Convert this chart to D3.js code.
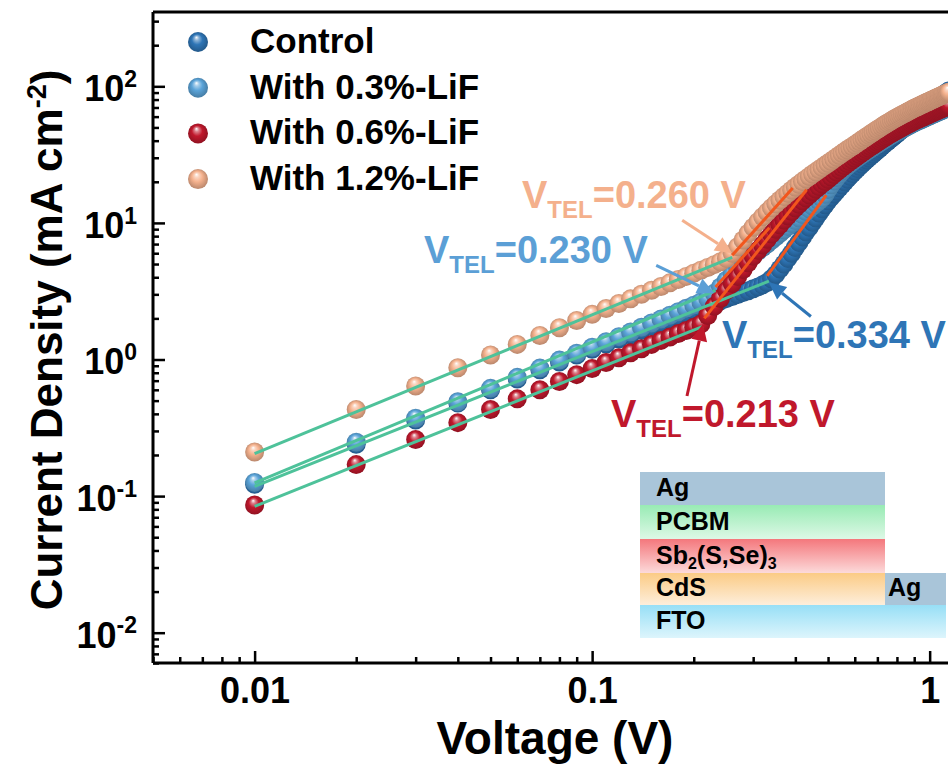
<!DOCTYPE html>
<html lang="en">
<head>
<meta charset="utf-8">
<title>Current Density vs Voltage</title>
<style>
body { margin: 0; background: #fff; }
text { font-family: Arial, "Liberation Sans", sans-serif; font-weight: bold; }
.axis .domain { stroke: #000; stroke-width: 3px; }
.axis line { stroke: #000; stroke-width: 2.5px; }
</style>
</head>
<body>
<div id="chart"></div>
<script src="https://d3js.org/d3.v7.min.js"></script>
<script>

// voltage sweep (V)
var voltage = [
  0.01,0.02,0.03,0.04,0.05,0.06,0.07,0.08,0.09,0.10,
  0.11,0.12,0.13,0.14,0.15,0.16,0.17,0.18,0.19,0.20,
  0.21,0.22,0.23,0.24,0.25,0.26,0.27,0.28,0.29,0.30,
  0.31,0.32,0.33,0.34,0.35,0.36,0.37,0.38,0.39,0.40,
  0.41,0.42,0.43,0.44,0.45,0.46,0.47,0.48,0.49,0.50,
  0.51,0.52,0.53,0.54,0.55,0.56,0.57,0.58,0.59,0.60,
  0.61,0.62,0.63,0.64,0.65,0.66,0.67,0.68,0.69,0.70,
  0.71,0.72,0.73,0.74,0.75,0.76,0.77,0.78,0.79,0.80,
  0.81,0.82,0.83,0.84,0.85,0.86,0.87,0.88,0.89,0.90,
  0.91,0.92,0.93,0.94,0.95,0.96,0.97,0.98,0.99,1.00,
  1.01,1.02,1.03,1.04,1.05,1.06,1.07,1.08,1.09,1.10,
  1.11,1.12,1.13,1.14
];

// current density (mA cm-2)
var jControl = [
  0.122,0.24,0.36,0.48,0.60,0.72,0.84,0.96,1.08,1.19,
  1.30,1.41,1.52,1.63,1.74,1.85,1.96,2.07,2.18,2.29,
  2.39,2.49,2.59,2.69,2.79,2.89,2.99,3.09,3.19,3.29,
  3.40,3.52,3.66,3.90,4.20,4.60,5.00,5.50,6.00,6.60,
  7.2,7.9,8.6,9.3,10.1,10.9,11.8,12.7,13.6,14.5,
  15.4,16.3,17.2,18.1,19.0,20.0,21.0,22.0,23.0,24.0,
  25.0,26.0,27.0,28.0,29.0,30.0,31.0,32.0,33.0,34.0,
  35.1,36.2,37.3,38.4,39.5,40.6,41.7,42.8,43.9,45.0,
  46.2,47.4,48.6,49.8,51.0,52.2,53.4,54.6,55.8,57.0,
  58.4,59.8,61.2,62.6,64.0,65.4,66.8,68.2,69.6,71.0,
  72.5,74.0,75.5,77.0,78.5,80.0,81.5,83.0,84.6,86.2,
  87.8,89.4,91.0,92.6
];
var jLiF03 = [
  0.126,0.248,0.372,0.49,0.615,0.74,0.865,0.99,1.11,1.23,
  1.35,1.47,1.59,1.72,1.85,1.98,2.11,2.24,2.37,2.50,
  2.64,2.80,3.05,3.40,3.80,4.20,4.60,5.00,5.40,5.80,
  6.20,6.60,7.00,7.45,7.90,8.40,8.90,9.40,9.90,10.4,
  10.9,11.5,12.1,12.7,13.3,13.9,14.5,15.2,16.2,17.6,
  19.0,20.3,21.5,22.7,24.0,25.1,26.1,27.1,28.0,29.0,
  29.9,30.8,31.6,32.5,33.4,34.2,35.1,36.0,36.9,37.7,
  38.6,39.5,40.4,41.2,42.1,43.0,43.8,44.7,45.5,46.3,
  47.0,47.8,48.6,49.4,50.1,50.9,51.7,52.5,53.3,54.0,
  54.7,55.4,56.1,56.7,57.4,58.1,58.8,59.5,60.1,60.8,
  61.5,62.2,62.9,63.5,64.2,64.9,65.6,66.3,66.9,67.6,
  68.3,69.0,69.6,70.3
];
var jLiF06 = [
  0.086,0.17,0.26,0.345,0.43,0.515,0.60,0.69,0.775,0.86,
  0.95,1.03,1.12,1.20,1.29,1.38,1.46,1.55,1.63,1.72,
  1.82,2.10,2.45,2.80,3.20,3.60,4.05,4.55,5.10,5.70,
  6.3,6.9,7.6,8.3,9.0,9.7,10.5,11.3,12.1,12.9,
  13.7,14.5,15.3,16.1,16.9,17.7,18.5,19.3,20.1,20.9,
  21.8,22.7,23.6,24.5,25.4,26.3,27.2,28.1,29.0,29.9,
  30.8,31.7,32.6,33.5,34.4,35.3,36.2,37.1,38.0,38.9,
  39.8,40.7,41.6,42.5,43.4,44.3,45.2,46.1,46.9,47.7,
  48.5,49.3,50.1,50.9,51.7,52.5,53.3,54.1,54.9,55.7,
  56.4,57.1,57.8,58.5,59.2,59.9,60.6,61.3,62.0,62.7,
  63.4,64.1,64.8,65.5,66.2,66.9,67.6,68.3,69.0,69.7,
  70.4,71.1,71.8,72.5
];
var jLiF12 = [
  0.21,0.43,0.64,0.87,1.08,1.29,1.50,1.71,1.93,2.14,
  2.36,2.57,2.78,3.00,3.21,3.42,3.64,3.85,4.06,4.28,
  4.50,4.72,4.95,5.20,5.50,6.00,6.70,7.50,8.40,9.30,
  10.2,11.1,12.0,12.9,13.8,14.7,15.6,16.5,17.4,18.3,
  19.2,20.1,21.0,21.9,22.8,23.7,24.6,25.5,26.4,27.3,
  28.3,29.3,30.3,31.3,32.3,33.3,34.3,35.3,36.3,37.3,
  38.4,39.5,40.6,41.7,42.8,43.9,45.0,46.1,47.2,48.3,
  49.4,50.5,51.6,52.7,53.8,54.9,56.0,57.1,58.1,59.1,
  60.1,61.1,62.1,63.1,64.1,65.1,66.1,67.1,68.1,69.1,
  70.0,70.9,71.8,72.7,73.6,74.5,75.4,76.3,77.2,78.1,
  79.0,79.9,80.8,81.7,82.6,83.5,84.4,85.3,86.2,87.1,
  88.0,88.9,89.8,90.7
];

var seriesNames = ["Control", "With 0.3%-LiF", "With 0.6%-LiF", "With 1.2%-LiF"];
var vtel = [0.334, 0.230, 0.213, 0.260];
var vtelLabels = ["0.334", "0.230", "0.213", "0.260"];

// fitted segments [v0, j0, v1, j1]
var ohmicFit = [[0.01, 0.118, 0.334, 3.75], [0.01, 0.125, 0.232, 3.2], [0.01, 0.084, 0.213, 1.75], [0.01, 0.205, 0.26, 5.6]];
var tflFit = [[0.33, 4.1, 0.494, 16], [0.232, 3.4, 0.335, 9.2], [0.215, 2.0, 0.432, 17.5], [0.26, 5.8, 0.393, 18]];

var xTicks = [0.01, 0.1, 1];
var yTicks = [0.01, 0.1, 1, 10, 100];
var layerNames = ["Ag", "PCBM", "Sb2(S,Se)3", "CdS", "FTO"];

var series = [jControl, jLiF03, jLiF06, jLiF12];
var colors = ["#2E75B6", "#5BA4D9", "#C0182C", "#F5B28E"];
var textColors = ["#2E75B6", "#5B9FD6", "#C0182C", "#F4B08C"];

var width = 948, height = 764;

var svg = d3.select("#chart").append("svg")
    .attr("width", width)
    .attr("height", height);

var x = d3.scaleLog().domain([0.005, 1.23]).range([153, 960]);
var y = d3.scaleLog().domain([0.006, 350]).range([663, 12]);

var defs = svg.append("defs");
defs.append("clipPath").attr("id", "plot")
  .append("rect").attr("x", 153).attr("y", 12).attr("width", 807).attr("height", 651);

// sphere look for the markers
colors.forEach(function(c, i) {
  var g = defs.append("radialGradient").attr("id", "ball" + i)
      .attr("cx", "50%").attr("cy", "50%").attr("r", "55%")
      .attr("fx", "42%").attr("fy", "26%");
  g.append("stop").attr("offset", "0%").attr("stop-color", "#fff");
  g.append("stop").attr("offset", "20%").attr("stop-color", d3.interpolateRgb("#fff", c)(0.55));
  g.append("stop").attr("offset", "48%").attr("stop-color", c);
  g.append("stop").attr("offset", "100%").attr("stop-color", d3.color(c).darker(0.9));
});

// axes
function isMajor(d) { return Math.abs(Math.log10(d) - Math.round(Math.log10(d))) < 1e-6; }

var xMinor = x.ticks().filter(function(d) { return !isMajor(d); });
var yMinor = y.ticks().filter(function(d) { return !isMajor(d); });

svg.append("g").attr("class", "axis")
    .attr("transform", "translate(0,663)")
    .call(d3.axisBottom(x).tickValues(xMinor).tickSize(-6).tickFormat(""))
    .call(function(g) { g.select(".domain").remove(); });

svg.append("g").attr("class", "axis")
    .attr("transform", "translate(153,0)")
    .call(d3.axisLeft(y).tickValues(yMinor).tickSize(-6).tickFormat(""))
    .call(function(g) { g.select(".domain").remove(); });

var xAxis = svg.append("g").attr("class", "axis")
    .attr("transform", "translate(0,663)")
    .call(d3.axisBottom(x).tickValues(xTicks).tickSize(-12).tickPadding(14).tickSizeOuter(0)
      .tickFormat(function(d) { return d3.format("")(d); }));
xAxis.selectAll("text").attr("font-size", 36).attr("fill", "#000");
xAxis.select(".domain").attr("d", "M153,0H960");

var yAxis = svg.append("g").attr("class", "axis")
    .attr("transform", "translate(153,0)")
    .call(d3.axisLeft(y).tickValues(yTicks).tickSize(-12).tickPadding(16).tickSizeOuter(0));
yAxis.select(".domain").attr("d", "M0,12V663");
yAxis.selectAll("text").each(function(d) {
  var t = d3.select(this).text(null).attr("font-size", 36).attr("fill", "#000").attr("dy", "0.4em");
  t.append("tspan").text("10");
  t.append("tspan").attr("font-size", 23).attr("dy", "-0.62em").text(Math.round(Math.log10(d)));
});

// top frame line
svg.append("line").attr("x1", 153).attr("x2", 960).attr("y1", 12).attr("y2", 12)
    .attr("stroke", "#000").attr("stroke-width", 3);

// axis titles
svg.append("text").attr("x", 555).attr("y", 754).attr("text-anchor", "middle")
    .attr("font-size", 46).text("Voltage (V)");

var yt = svg.append("text").attr("transform", "translate(62,340) rotate(-90)")
    .attr("text-anchor", "middle").attr("font-size", 44);
yt.append("tspan").text("Current Density (mA cm");
yt.append("tspan").attr("font-size", 27).attr("dy", "-0.6em").text("-2");
yt.append("tspan").attr("dy", "0.36em").text(")");

// markers
var plot = svg.append("g").attr("clip-path", "url(#plot)");

series.forEach(function(vals, i) {
  plot.append("g").selectAll("circle")
    .data(voltage.map(function(v, k) { return [v, vals[k]]; }))
    .enter().append("circle")
      .attr("cx", function(d) { return x(d[0]); })
      .attr("cy", function(d) { return y(d[1]); })
      .attr("r", 9.5)
      .attr("fill", "url(#ball" + i + ")");
});

// fitted lines
var line = d3.line().x(function(d) { return x(d[0]); }).y(function(d) { return y(d[1]); });

ohmicFit.forEach(function(f) {
  plot.append("path").attr("d", line([[f[0], f[1]], [f[2], f[3]]]))
    .attr("stroke", "#4EC29A").attr("stroke-width", 3).attr("fill", "none");
});
tflFit.forEach(function(f) {
  plot.append("path").attr("d", line([[f[0], f[1]], [f[2], f[3]]]))
    .attr("stroke", "#F2561D").attr("stroke-width", 3).attr("fill", "none");
});

// V_TEL annotations
var labelPos = [[722, 348], [424, 263], [611, 427], [522, 208]];
var tailOffset = [[42, 34], [-58, -28], [-16, 72], [-50, -33]];

function drawArrow(x1, y1, x2, y2, color) {
  var a = Math.atan2(y2 - y1, x2 - x1), L = 17, W = 8;
  var bx = x2 - L * Math.cos(a), by = y2 - L * Math.sin(a);
  svg.append("line").attr("x1", x1).attr("y1", y1).attr("x2", bx).attr("y2", by)
      .attr("stroke", color).attr("stroke-width", 3);
  svg.append("path")
      .attr("d", "M" + x2 + "," + y2 +
        "L" + (bx + W * Math.sin(a)) + "," + (by - W * Math.cos(a)) +
        "L" + (bx - W * Math.sin(a)) + "," + (by + W * Math.cos(a)) + "Z")
      .attr("fill", color);
}

vtel.forEach(function(v, i) {
  var k = Math.round(v * 100) - 1;
  var jv = series[i][k];
  var tx = x(v), ty = y(jv);
  drawArrow(tx + tailOffset[i][0], ty + tailOffset[i][1], tx, ty, textColors[i]);

  var t = svg.append("text").attr("x", labelPos[i][0]).attr("y", labelPos[i][1])
      .attr("font-size", 38).attr("fill", textColors[i]);
  t.append("tspan").text("V");
  t.append("tspan").attr("font-size", 24).attr("dy", 10).text("TEL");
  t.append("tspan").attr("dy", -10).text("=" + vtelLabels[i] + " V");
});

// legend
var legend = svg.append("g");
seriesNames.forEach(function(name, i) {
  var ly = 53 + i * 45.7;
  legend.append("circle").attr("cx", 198).attr("cy", ly - 11).attr("r", 10)
      .attr("fill", "url(#ball" + i + ")");
  legend.append("text").attr("x", 250).attr("y", ly).attr("font-size", 35)
      .attr("fill", "#000").text(name);
});

// device stack inset
var layerFill = [
  ["#A9C5D9", "#A9C5D9"],
  ["#98EBB4", "#DDF8E6"],
  ["#F4777C", "#FCDADA"],
  ["#FBCB85", "#FDEEDB"],
  ["#97DFF6", "#DDF5FC"]
];
layerFill.forEach(function(c, i) {
  var g = defs.append("linearGradient").attr("id", "layer" + i)
      .attr("x1", 0).attr("y1", 0).attr("x2", 0).attr("y2", 1);
  g.append("stop").attr("offset", "0%").attr("stop-color", c[0]);
  g.append("stop").attr("offset", "100%").attr("stop-color", c[1]);
});

var stackTop = [472, 505, 539, 573, 605, 638];
var inset = svg.append("g");
layerNames.forEach(function(name, i) {
  inset.append("rect").attr("x", 640).attr("y", stackTop[i])
      .attr("width", i === 4 ? 306 : 245).attr("height", stackTop[i + 1] - stackTop[i])
      .attr("fill", "url(#layer" + i + ")");
});
inset.append("rect").attr("x", 885).attr("y", stackTop[3]).attr("width", 61)
    .attr("height", stackTop[4] - stackTop[3]).attr("fill", "#A9C5D9");

layerNames.forEach(function(name, i) {
  var t = inset.append("text").attr("x", 656).attr("y", stackTop[i + 1] - 9)
      .attr("font-size", 25).attr("fill", "#000");
  if (name === "Sb2(S,Se)3") {
    t.append("tspan").text("Sb");
    t.append("tspan").attr("font-size", 16).attr("dy", 5).text("2");
    t.append("tspan").attr("dy", -5).text("(S,Se)");
    t.append("tspan").attr("font-size", 16).attr("dy", 5).text("3");
  } else {
    t.text(name);
  }
});
inset.append("text").attr("x", 888).attr("y", stackTop[4] - 9)
    .attr("font-size", 25).attr("fill", "#000").text(layerNames[0]);

</script>
</body>
</html>
